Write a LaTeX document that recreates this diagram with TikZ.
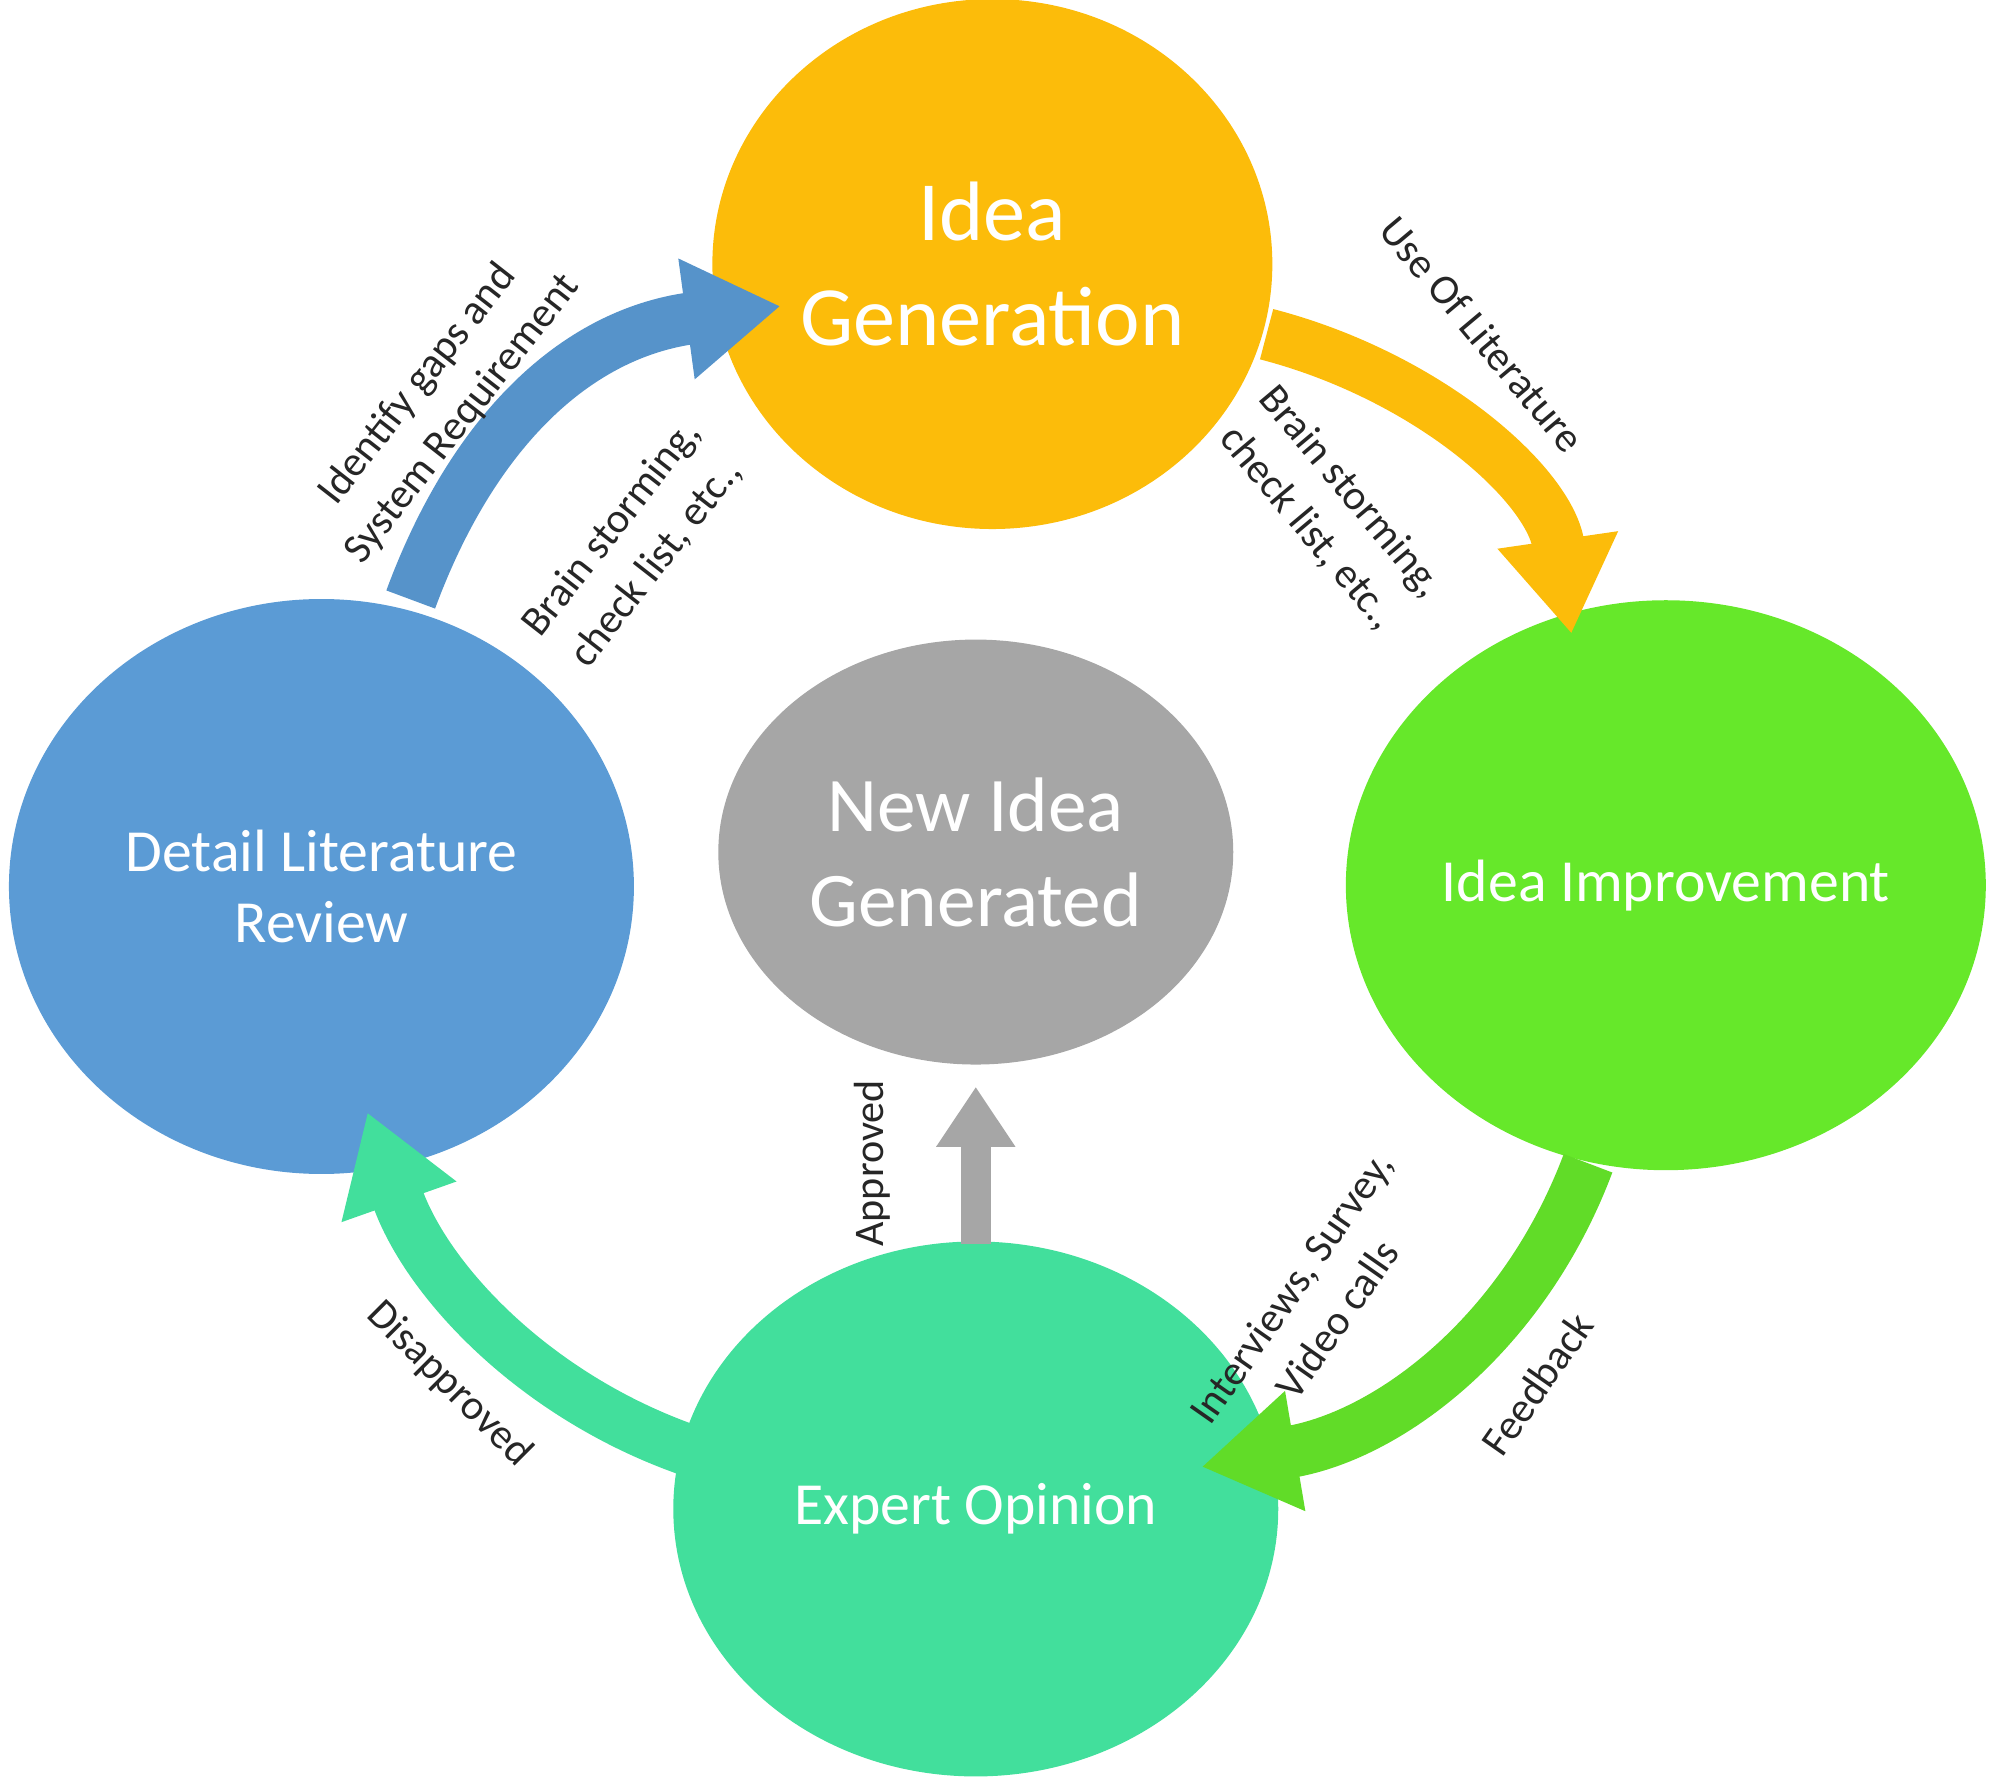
\documentclass[tikz,border=0pt]{standalone}
\usepackage{fontspec}
\setmainfont{Carlito}
\usetikzlibrary{shapes.geometric,arrows.meta}
\definecolor{cblue}{HTML}{5B9BD5}
\definecolor{corange}{HTML}{FCBC0A}
\definecolor{cgray}{HTML}{A6A6A6}
\definecolor{cgreen}{HTML}{66E82A}
\definecolor{cteal}{HTML}{42DF9C}
\tikzset{
 bub/.style={ellipse,inner sep=0pt,text=white,align=center},
 band/.style={line width=0.52cm,-{Triangle[width=1.15cm,length=0.95cm]}},
 lab/.style={font=\fontsize{12}{16}\selectfont,align=center,text=black!85}
}
\begin{document}
\begin{tikzpicture}[x=0.012755cm,y=-0.012755cm]
\useasboundingbox (0,0) rectangle (1568,1396);
\node[bub,fill=corange,minimum width=5.6cm,minimum height=5.3cm,font=\fontsize{24}{30}\selectfont] (ig) at (778,207) {Idea\\Generation};
\node[bub,fill=cblue,minimum width=6.25cm,minimum height=5.75cm,font=\fontsize{17}{20}\selectfont] (dl) at (252,695) {Detail Literature\\Review};
\node[bub,fill=cgray,minimum width=5.15cm,minimum height=4.25cm,font=\fontsize{22}{27}\selectfont] (ni) at (765,668) {New Idea\\Generated};
\node[bub,fill=cgreen,minimum width=6.4cm,minimum height=5.7cm,font=\fontsize{17}{20}\selectfont] (ii) at (1306,694) {Idea Improvement};
\node[bub,fill=cteal,minimum width=6.05cm,minimum height=5.35cm,font=\fontsize{17}{20}\selectfont] (eo) at (765,1183) {Expert Opinion};
\coordinate (b1) at (322,470); \coordinate (b2) at (612,240);
\coordinate (o1) at (993,262); \coordinate (o2) at (1232,497);
\coordinate (g1) at (1245,912); \coordinate (g2) at (942,1150);
\coordinate (t1) at (540,1137); \coordinate (t2) at (288,872);
\coordinate (a1) at (765,975); \coordinate (a2) at (765,852);
\draw[band,cblue!95!black] (b1) .. controls (370,340) and (450,262) .. (b2);
\draw[band,corange] (o1) .. controls (1120,295) and (1215,380) .. (o2);
\draw[band,cgreen!95!black] (g1) .. controls (1195,1045) and (1090,1125) .. (g2);
\draw[band,cteal] (t1) .. controls (420,1095) and (335,1005) .. (t2);
\draw[line width=0.3cm,cgray,-{Triangle[width=0.75cm,length=0.6cm]}] (a1) -- (a2);
\node[lab,rotate=52] (l1) at (345,315) {Identify gaps and\\System Requirement};
\node[lab,rotate=52] (l2) at (497,428) {Brain storming,\\check list, etc.,};
\node[lab,rotate=-50] (l3) at (1162,262) {Use Of Literature};
\node[lab,rotate=-50] (l4) at (1042,400) {Brain storming,\\check list, etc.,};
\node[lab,rotate=55] (l5) at (1030,1022) {Interviews, Survey,\\Video calls};
\node[lab,rotate=55] (l6) at (1205,1085) {Feedback};
\node[lab,rotate=90] (l7) at (684,912) {Approved};
\node[lab,rotate=-45] (l8) at (352,1085) {Disapproved};
\end{tikzpicture}
\end{document}
